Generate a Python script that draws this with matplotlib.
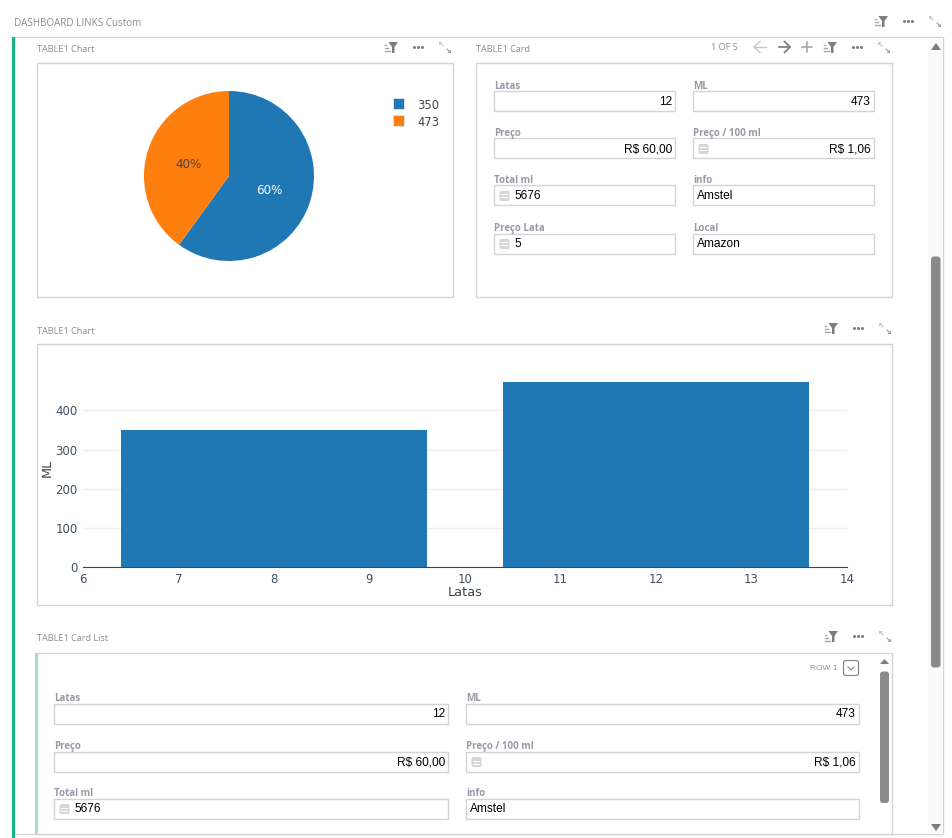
import matplotlib
matplotlib.use("Agg")
import matplotlib.pyplot as plt
from matplotlib.patches import FancyBboxPatch, Polygon, Rectangle

W, H = 953, 838

pie_labels = ["350", "473"]
pie_shares = [60, 40]

bar_latas = [8, 12]
bar_ml = [350, 473]
bar_width = 3.2
x_ticks = [6, 7, 8, 9, 10, 11, 12, 13, 14]
y_ticks = [0, 100, 200, 300, 400]

field_names = ["Latas", "ML", "Preço", "Preço / 100 ml", "Total ml", "info", "Preço Lata", "Local"]
field_values = ["12", "473", "R$ 60,00", "R$ 1,06", "5676", "Amstel", "5", "Amazon"]
field_has_icon = [False, False, False, True, True, False, True, False]
field_right = [True, True, True, True, False, False, False, False]

BLUE = "#1f77b4"
ORANGE = "#ff7f0e"
BORDER = "#d4d4d4"
LABEL = "#9a9aa6"
TITLE = "#8c8c96"
UI_FONT = ["Open Sans", "DejaVu Sans"]
VALUE_FONT = ["Liberation Sans", "DejaVu Sans"]
CHART_FONT = ["DejaVu Sans"]


def px_axes(fig, left, top, right, bottom):
    return fig.add_axes([left / W, 1 - bottom / H, (right - left) / W, (bottom - top) / H])


def box(ax, x0, y0, x1, y1, ec=BORDER, fc="white", lw=1.0):
    ax.add_patch(Rectangle((x0, y0), x1 - x0, y1 - y0, ec=ec, fc=fc, lw=lw))


def filter_icon(ax, x, y):
    ax.add_patch(Polygon([(x - 2.5, y - 5), (x + 7, y - 5), (x + 3.5, y), (x + 3.5, y + 6),
                          (x + 1, y + 6), (x + 1, y)], fc="#7d7d7d", ec="none"))
    for i, dy in enumerate([-3, 0, 3]):
        ax.plot([x - 6, x - 5 + i * 2], [y + dy + 1.5, y + dy + 1.5], color="#a8a8a8", lw=1)


def dots_icon(ax, x, y):
    ax.plot([x - 4, x, x + 4], [y, y, y], ls="none", marker="o", ms=2.2, color="#7d7d7d", mew=0)


def expand_icon(ax, x, y):
    ax.plot([x - 5, x - 2], [y - 4, y - 1], color="#c4c4c4", lw=0.8)
    ax.plot([x + 2, x + 5], [y + 2, y + 5], color="#a0a0a0", lw=0.8)
    ax.add_patch(Polygon([(x - 6, y - 5), (x - 2.5, y - 5), (x - 6, y - 1.5)], fc="#c4c4c4", ec="none"))
    ax.add_patch(Polygon([(x + 6, y + 6), (x + 2.5, y + 6), (x + 6, y + 2.5)], fc="#a0a0a0", ec="none"))


def toolbar(ax, filter_x, y):
    filter_icon(ax, filter_x, y)
    dots_icon(ax, filter_x + 27, y)
    expand_icon(ax, filter_x + 54, y)


def title(ax, x, y, s, size=6.6):
    ax.text(x, y + 0.6, s, fontsize=size, color=TITLE, family=UI_FONT, va="center", ha="left")


def calc_icon(ax, x, y):
    ax.add_patch(FancyBboxPatch((x - 4, y - 4), 8, 8, boxstyle="round,pad=1,rounding_size=2",
                                fc="#d6d6d6", ec="none"))
    ax.plot([x - 3, x + 3], [y - 1.5, y - 1.5], color="white", lw=0.8)
    ax.plot([x - 3, x + 3], [y + 1.5, y + 1.5], color="white", lw=0.8)


def field(ax, i, x0, x1, y0, y1):
    ax.text(x0, y0 - 5.2, field_names[i], fontsize=7.0, fontweight="bold", color=LABEL,
            family=UI_FONT, va="center", ha="left")
    box(ax, x0, y0, x1, y1)
    ym = (y0 + y1) / 2 + 0.5
    if field_has_icon[i]:
        calc_icon(ax, x0 + 10, ym)
    if field_right[i]:
        ax.text(x1 - 3.5, ym, field_values[i], fontsize=8.6, color="black", family=VALUE_FONT,
                va="center", ha="right")
    else:
        tx = x0 + 20 if field_has_icon[i] else x0 + 3
        ax.text(tx, ym, field_values[i], fontsize=8.6, color="black", family=VALUE_FONT,
                va="center", ha="left")


fig = plt.figure(figsize=(W / 100, H / 100), dpi=100, facecolor="white")
bg = fig.add_axes([0, 0, 1, 1])
bg.set_xlim(0, W)
bg.set_ylim(H, 0)
bg.axis("off")

# page header and outer panel
title(bg, 14, 23, "DASHBOARD LINKS Custom", size=7.1)
toolbar(bg, 881, 21)
box(bg, 13, 37.5, 943.5, 834)
bg.add_patch(Rectangle((12, 37), 3, H - 37, fc="#16b47f", ec="none"))

# outer scrollbar
bg.add_patch(Rectangle((928, 38), 15, 795.5, fc="#fafafa", ec="none"))
bg.add_patch(Polygon([(931, 50), (941, 50), (936, 43)], fc="#7d7d7d", ec="none"))
bg.add_patch(Polygon([(931, 824), (941, 824), (936, 831)], fc="#7d7d7d", ec="none"))
bg.add_patch(FancyBboxPatch((932.5, 258), 6.5, 408, boxstyle="round,pad=1.5,rounding_size=3",
                            fc="#8a8a8a", ec="none"))

# pie panel
title(bg, 37, 49, "TABLE1 Chart")
toolbar(bg, 391, 47)
box(bg, 37.5, 63.5, 453.5, 297.5)

# card panel
title(bg, 476, 49, "TABLE1 Card")
bg.text(711, 47, "1 OF 5", fontsize=6.6, color=TITLE, family=UI_FONT, va="center", ha="left")
bg.plot([754, 766], [47, 47], color="#c8c8c8", lw=1)
bg.plot([760, 754, 760], [41.5, 47, 52.5], color="#c8c8c8", lw=1)
bg.plot([779, 790], [47, 47], color="#777777", lw=1.2)
bg.plot([784.5, 790, 784.5], [41.5, 47, 52.5], color="#777777", lw=1.2)
bg.plot([802, 812], [47, 47], color="#a0a0a0", lw=1.1)
bg.plot([807, 807], [42, 52], color="#a0a0a0", lw=1.1)
toolbar(bg, 830, 47)
box(bg, 476.5, 63.5, 892.5, 297.5)

card_cols = [(494.5, 675.5), (693.5, 874.5)]
card_rows = [(91.5, 111.5), (138.5, 158.5), (185.5, 205.5), (233.5, 253.5)]
for i in range(8):
    c = card_cols[i % 2]
    r = card_rows[i // 2]
    field(bg, i, c[0], c[1], r[0], r[1])

# bar panel
title(bg, 37, 331, "TABLE1 Chart")
toolbar(bg, 831, 328)
box(bg, 37.5, 344.5, 892.5, 604.5)

# card list panel
title(bg, 37, 638, "TABLE1 Card List")
toolbar(bg, 831, 636)
box(bg, 37.5, 652.5, 892.5, 834)
bg.add_patch(Rectangle((35, 653), 3, 181, fc="#a3dfc8", ec="none"))
bg.text(810, 668.5, "ROW 1", fontsize=6, color="#8c9aa6", family=VALUE_FONT, va="center", ha="left")
bg.add_patch(FancyBboxPatch((845, 662), 12, 12, boxstyle="round,pad=1.5,rounding_size=2.5",
                            fc="white", ec="#8a8a8a", lw=0.9))
bg.plot([848, 851, 854], [667, 670, 667], color="#8a8a8a", lw=0.8)
bg.add_patch(Polygon([(880, 664), (889, 664), (884.5, 659)], fc="#7d7d7d", ec="none"))
bg.add_patch(FancyBboxPatch((881.5, 673), 6, 128.5, boxstyle="round,pad=1.5,rounding_size=3",
                            fc="#8a8a8a", ec="none"))

list_cols = [(54.5, 448.5), (466.5, 859.5)]
list_rows = [(703.5, 723.5), (751.5, 771.5), (798.5, 818.5)]
for i in range(6):
    c = list_cols[i % 2]
    r = list_rows[i // 2]
    field(bg, i, c[0], c[1], r[0], r[1])

# pie
pie_ax = px_axes(fig, 144, 91, 314, 261)
pie_ax.patch.set_alpha(0)
wedges, _, autotexts = pie_ax.pie(pie_shares, colors=[BLUE, ORANGE], startangle=90, counterclock=False,
                                  radius=1, autopct="%.0f%%", pctdistance=0.5,
                                  textprops={"fontsize": 8.6, "family": CHART_FONT})
autotexts[0].set_color("white")
autotexts[1].set_color("#444444")
for t in autotexts:
    t.set_y(t.get_position()[1] - 0.018)
pie_ax.set_xlim(-1, 1)
pie_ax.set_ylim(-1, 1)

# pie legend
for y, lab, col in zip([104, 121], pie_labels, [BLUE, ORANGE]):
    bg.add_patch(Rectangle((393.5, y - 5.5), 11, 11, fc=col, ec="#dbe6ee", lw=0.6))
    bg.text(417, y, lab, fontsize=8.3, color="#444444", family=CHART_FONT, va="center_baseline", ha="left")

# bar chart
bar_ax = px_axes(fig, 83, 372, 847, 567.3)
bar_ax.patch.set_alpha(0)
bar_ax.bar(bar_latas, bar_ml, width=bar_width, color=BLUE, zorder=3)
bar_ax.set_xlim(6, 14)
bar_ax.set_ylim(0, 195.3 / 0.3925)
bar_ax.set_xticks(x_ticks)
bar_ax.set_yticks(y_ticks)
bar_ax.tick_params(length=0, labelsize=8.5, labelcolor="#3f4f63", pad=4)
bar_ax.grid(axis="y", color="#eeeeee", lw=1, zorder=0)
for side in ["top", "left", "right"]:
    bar_ax.spines[side].set_visible(False)
bar_ax.spines["bottom"].set_color("#444444")
bar_ax.spines["bottom"].set_zorder(4)
bg.text(465, 592, "Latas", fontsize=9.4, color="#444444", family=CHART_FONT, va="center", ha="center")
bg.text(47, 468, "ML", fontsize=9.4, color="#444444", family=CHART_FONT, va="center", ha="center", rotation=90)

fig.savefig("out.png", dpi=100)
